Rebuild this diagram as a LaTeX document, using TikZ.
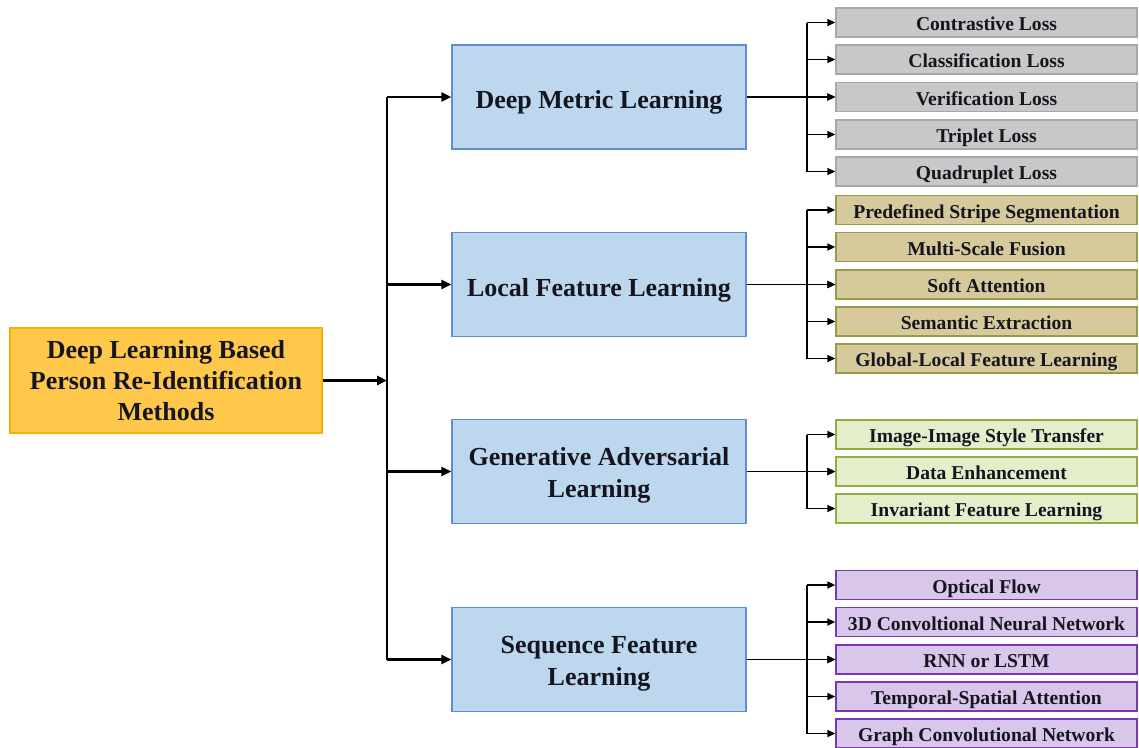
\documentclass[tikz,border=0pt]{standalone}
\usepackage{fontspec}
\setmainfont{Liberation Serif}
\usetikzlibrary{arrows.meta}

\definecolor{rootfill}{HTML}{FFC84B}
\definecolor{rootline}{HTML}{F5B000}
\definecolor{catfill}{HTML}{BDD7EE}
\definecolor{catline}{HTML}{5B8FD0}
\definecolor{grayfill}{HTML}{C8C8C8}
\definecolor{grayline}{HTML}{A8A8A8}
\definecolor{tanfill}{HTML}{D6CA9C}
\definecolor{tanline}{HTML}{9A9A48}
\definecolor{greenfill}{HTML}{E3EECB}
\definecolor{greenline}{HTML}{8CB042}
\definecolor{purplefill}{HTML}{D8C7EA}
\definecolor{purpleline}{HTML}{7D35B8}
\definecolor{inktext}{HTML}{151520}

% strut that lowers a two-line label a little inside its box
\newcommand{\toplift}{\rule{0pt}{26pt}}

\tikzset{
  rootbox/.style={draw=rootline, fill=rootfill, line width=1.5pt,
    minimum width=312pt, minimum height=105pt, inner sep=0pt, align=center,
    text=inktext, font=\fontsize{26}{31}\selectfont\bfseries},
  catbox/.style={draw=catline, fill=catfill, line width=1.3pt,
    minimum width=294pt, minimum height=104pt, inner sep=0pt, align=center,
    text=inktext, font=\fontsize{26}{32.5}\selectfont\bfseries},
  catone/.style={catbox, text height=24pt, text depth=1pt},
  leafbox/.style={line width=1.3pt, minimum width=301pt, minimum height=29pt,
    inner sep=0pt, align=center, text=inktext,
    font=\fontsize{19.6}{22}\selectfont\bfseries,
    text height=17pt, text depth=0.6pt},
  grayleaf/.style={leafbox, draw=grayline, fill=grayfill},
  tanleaf/.style={leafbox, draw=tanline, fill=tanfill},
  greenleaf/.style={leafbox, draw=greenline, fill=greenfill},
  purpleleaf/.style={leafbox, draw=purpleline, fill=purplefill},
  mainlink/.style={line width=2.6pt, -{Triangle[length=10pt,width=9pt]}},
  trunkline/.style={line width=2.6pt},
  leaflink/.style={line width=1.6pt, -{Triangle[length=8pt,width=7pt]}},
  busline/.style={line width=1.6pt},
}

\begin{document}
\begin{tikzpicture}[x=1pt,y=-1pt]
\useasboundingbox (0,0) rectangle (1139,747);

% root and categories
\node[rootbox] (root) at (166,380.5) {Deep Learning Based\\Person Re-Identification\\Methods};
\node[catone] (dml) at (599,97) {Deep Metric Learning};
\node[catone] (lfl) at (599,284.5) {Local Feature Learning};
\node[catbox] (gal) at (599,471.5) {\toplift Generative Adversarial\\Learning};
\node[catbox] (sfl) at (599,659.5) {\toplift Sequence Feature\\Learning};

% leaves
\node[grayleaf] (a1) at (986.5,22.5) {Contrastive Loss};
\node[grayleaf] (a2) at (986.5,59.5) {Classification Loss};
\node[grayleaf] (a3) at (986.5,97) {Verification Loss};
\node[grayleaf] (a4) at (986.5,134.5) {Triplet Loss};
\node[grayleaf] (a5) at (986.5,171.5) {Quadruplet Loss};

\node[tanleaf] (b1) at (986.5,210) {Predefined Stripe Segmentation};
\node[tanleaf] (b2) at (986.5,247) {Multi-Scale Fusion};
\node[tanleaf] (b3) at (986.5,284.5) {Soft Attention};
\node[tanleaf] (b4) at (986.5,321.5) {Semantic Extraction};
\node[tanleaf] (b5) at (986.5,358.5) {Global-Local Feature Learning};

\node[greenleaf] (c1) at (986.5,434.5) {Image-Image Style Transfer};
\node[greenleaf] (c2) at (986.5,471.5) {Data Enhancement};
\node[greenleaf] (c3) at (986.5,508.5) {Invariant Feature Learning};

\node[purpleleaf] (d1) at (986.5,585) {Optical Flow};
\node[purpleleaf] (d2) at (986.5,622) {3D Convoltional Neural Network};
\node[purpleleaf] (d3) at (986.5,659.5) {RNN or LSTM};
\node[purpleleaf] (d4) at (986.5,696.5) {Temporal-Spatial Attention};
\node[purpleleaf] (d5) at (986.5,733.5) {Graph Convolutional Network};

% trunk from root to categories
\coordinate (trunk) at (387,0);
\draw[mainlink] (root.east) -- (trunk |- root.east);
\draw[trunkline] (trunk |- dml.west) -- (trunk |- sfl.west);
\foreach \c in {dml,lfl,gal,sfl}
  \draw[mainlink] (trunk |- \c.west) -- (\c.west);

% buses from categories to leaves
\coordinate (bus) at (807,0);
\foreach \c/\g/\m/\l in {dml/a/3/5, lfl/b/3/5, gal/c/2/3, sfl/d/3/5}{
  \draw[leaflink] (\c.east) -- (\g\m.west);
  \draw[busline] (bus |- \g1.west) -- (bus |- \g\l.west);
  \foreach \i in {1,...,\l}
    \draw[leaflink] (bus |- \g\i.west) -- (\g\i.west);
}
\end{tikzpicture}
\end{document}
